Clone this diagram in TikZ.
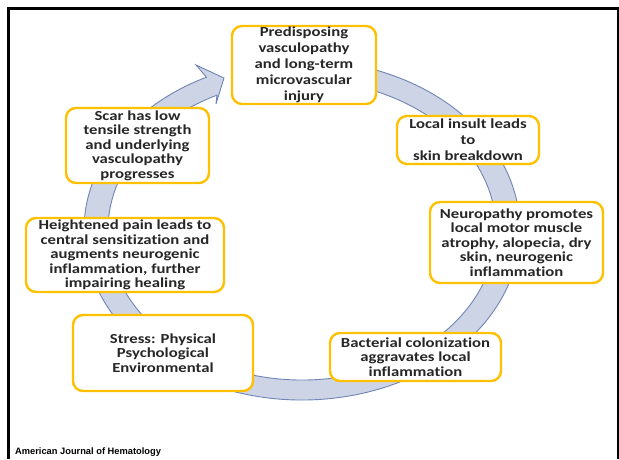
\documentclass[tikz,border=0pt]{standalone}
\usepackage{fontspec}
\setmainfont{Liberation Sans}
\newfontfamily\calfont{Carlito}[FakeStretch=1.21, Ligatures=NoCommon]
\usepackage{tikz}
\usetikzlibrary{calc,positioning}
\definecolor{boxgold}{RGB}{255,192,0}
\definecolor{ringfill}{RGB}{205,212,230}
\definecolor{ringline}{RGB}{112,132,181}
\definecolor{boxtext}{RGB}{38,38,38}

\begin{document}
\begin{tikzpicture}[x = 1pt, y = 1pt,
  stage/.style = {draw=boxgold, line width=2.4pt, rounded corners=10pt, fill=white,
    align=center, inner sep=0pt, text=boxtext,
    font=\calfont\bfseries\fontsize{13.8}{14.5}\selectfont},
  stage wide/.style = {stage, font=\calfont\bfseries\fontsize{13.8}{16}\selectfont},
  ring/.style = {fill=ringfill, draw=ringline, line width=0.9pt}]
\useasboundingbox (0,0) rectangle (619,459);
% frame
\draw[line width=3pt] (8.7,0) -- (8.7,450) -- (619,450);
\draw[line width=1.8pt] (618.2,450) -- (618.2,0);
% circular arrow
\coordinate (c) at (302,229);
\coordinate (wingout) at (196,394);
\coordinate (tip) at (224,381);
\coordinate (wingin) at (216,355);
\path[ring] ($(c)+(100:218 and 170)$)
  arc[start angle=100, end angle=-244, x radius=218, y radius=170]
  -- (wingout) -- (tip) -- (wingin)
  -- ($(c)+(-244:194 and 150)$)
  arc[start angle=-244, end angle=100, x radius=194, y radius=150] -- cycle;
% stages
\node[stage wide, minimum width=144, minimum height=78] (pre) at (304,394)
  {Predisposing\\vasculopathy\\and long-term\\microvascular\\injury};
\node[stage wide, minimum width=142, minimum height=48] (loc) at (468,319)
  {Local insult leads\\to\\skin breakdown};
\node[stage, minimum width=173, minimum height=81] (neuro) at (516.5,216.5)
  {Neuropathy promotes\\local motor muscle\\atrophy, alopecia, dry\\skin, neurogenic\\inflammation};
\node[stage, minimum width=171, minimum height=48] (bact) at (415.5,102)
  {Bacterial colonization\\aggravates local\\inflammation};
\node[stage, minimum width=180, minimum height=76] (stress) at (163,106)
  {Stress: Physical\\Psychological\\Environmental};
\node[stage, minimum width=198, minimum height=74] (pain) at (125,204)
  {Heightened pain leads to\\central sensitization and\\augments neurogenic\\inflammation, further\\impairing healing};
\node[stage, minimum width=143, minimum height=75] (scar) at (137.5,313.5)
  {Scar has low\\tensile strength\\and underlying\\vasculopathy\\progresses};
% source line
\node[anchor=base west, inner sep=0pt, font=\bfseries\fontsize{9.3}{11}\selectfont] (journal) at (15,5)
  {American Journal of Hematology};
\end{tikzpicture}
\end{document}
